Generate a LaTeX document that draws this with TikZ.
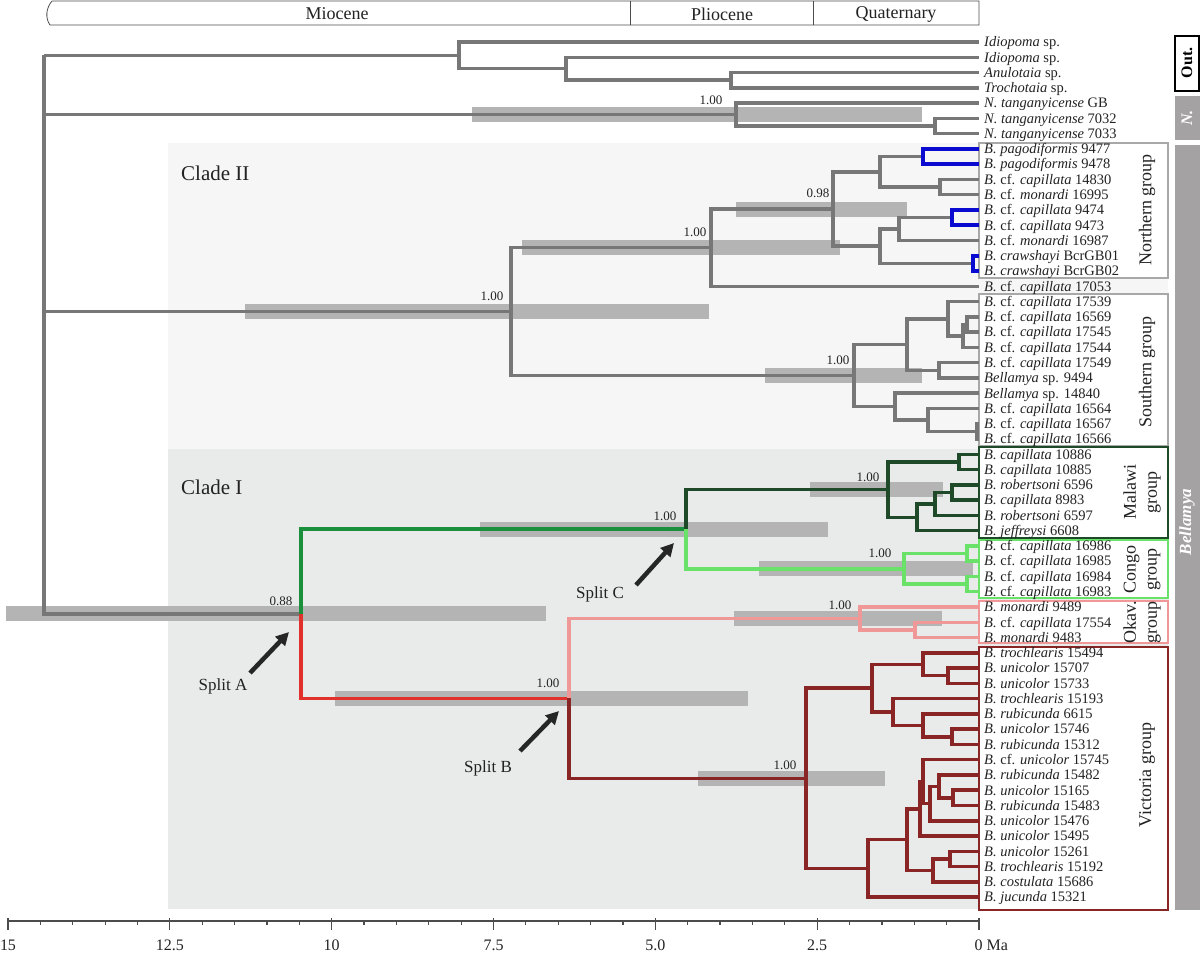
\documentclass[tikz,border=0pt]{standalone}
\usepackage{fontspec}
\setmainfont{Liberation Serif}
\usetikzlibrary{arrows.meta,calc}
\definecolor{gline}{HTML}{777777}
\definecolor{barc}{HTML}{B4B4B4}
\definecolor{bgtwo}{HTML}{F6F6F6}
\definecolor{bgone}{HTML}{E9EAEA}
\definecolor{cblue}{HTML}{0A0AD0}
\definecolor{cgreen}{HTML}{1A8F3C}
\definecolor{cdgreen}{HTML}{1F4A2A}
\definecolor{clgreen}{HTML}{6AE26A}
\definecolor{cpink}{HTML}{F09898}
\definecolor{cred}{HTML}{E2312B}
\definecolor{cdred}{HTML}{8A2525}
\definecolor{boxgrey}{HTML}{A8A8A8}
\definecolor{sidegrey}{HTML}{A4A2A2}
\definecolor{txt}{HTML}{222222}
\newcommand{\mkn}[3]{\coordinate (#1) at (#2,{42+(#3-1)*15.27});}
\newcommand{\mkleaf}[2]{\coordinate (t#1) at (979,{42+(#1-1)*15.27});\node[leaflab] (l#1) at (984,{42+(#1-1)*15.27+4.8}) {#2};}
\newcommand{\mkbar}[3]{\fill[barc] (#2,{42+(#1-1)*15.27-7.5}) rectangle (#3,{42+(#1-1)*15.27+7.5});}
\newcommand{\cfc}{\textit{B.} cf. \textit{capillata}}
\tikzset{
  br/.style={line width=3.5pt, draw=gline, line join=miter},
  brB/.style={br, draw=cblue},
  brG/.style={br, draw=cgreen},
  brDG/.style={br, draw=cdgreen},
  brLG/.style={br, draw=clgreen},
  brP/.style={br, draw=cpink},
  brR/.style={br, draw=cred},
  brDR/.style={br, draw=cdred},
  leaflab/.style={anchor=base west, inner sep=0pt, font=\fontsize{14.5}{16}\selectfont, text=txt},
  supp/.style={inner sep=0pt, font=\fontsize{13}{15}\selectfont, text=txt},
  grpbox/.style={line width=2pt, fill=white},
  grplab/.style={rotate=90, align=center, inner sep=0pt, font=\fontsize{18}{21}\selectfont, text=txt},
  cladelab/.style={anchor=west, inner sep=0pt, font=\fontsize{21}{24}\selectfont, text=txt},
  splitlab/.style={inner sep=1pt, font=\fontsize{17}{19}\selectfont, text=txt},
  splitarr/.style={line width=4.5pt, draw=black!85, -{Triangle[length=13pt,width=13pt]}},
  axlab/.style={inner sep=0pt, font=\fontsize{16}{18}\selectfont, text=txt},
  eralab/.style={inner sep=0pt, font=\fontsize{18}{20}\selectfont, text=txt},
}
\begin{document}
\begin{tikzpicture}[x=1pt,y=-1pt]
\useasboundingbox (0,0) rectangle (1200,956);
% backgrounds
\fill[bgtwo] (168,143) rectangle (1168,449);
\fill[bgone] (168,449) rectangle (1168,909);
% HPD bars
\mkbar{5.75}{472}{922}
\mkbar{18.65625}{245}{709}
\mkbar{14.46875}{522}{840}
\mkbar{11.9375}{736}{907}
\mkbar{22.84375}{765}{922}
\mkbar{38.4443359375}{6}{546}
\mkbar{32.90625}{480}{828}
\mkbar{30.3125}{810}{943}
\mkbar{35.5}{759}{973}
\mkbar{43.982421875}{335}{748}
\mkbar{38.75}{734}{942}
\mkbar{49.21484375}{698}{885}
% group boxes
\draw[grpbox, draw=boxgrey] (979,143) rectangle (1168,278);
\draw[grpbox, draw=boxgrey] (979,294) rectangle (1168,446);
\draw[grpbox, draw=cdgreen] (979,447) rectangle (1168,538);
\draw[grpbox, draw=clgreen] (979,540) rectangle (1168,598);
\draw[grpbox, draw=cpink] (979,601) rectangle (1168,643);
\draw[grpbox, draw=cdred] (979,647) rectangle (1168,910);
% leaves
\mkleaf{1}{\textit{Idiopoma} sp.}
\mkleaf{2}{\textit{Idiopoma} sp.}
\mkleaf{3}{\textit{Anulotaia} sp.}
\mkleaf{4}{\textit{Trochotaia} sp.}
\mkleaf{5}{\textit{N. tanganyicense} GB}
\mkleaf{6}{\textit{N. tanganyicense} 7032}
\mkleaf{7}{\textit{N. tanganyicense} 7033}
\mkleaf{8}{\textit{B. pagodiformis} 9477}
\mkleaf{9}{\textit{B. pagodiformis} 9478}
\mkleaf{10}{\cfc{} 14830}
\mkleaf{11}{\textit{B.} cf. \textit{monardi} 16995}
\mkleaf{12}{\cfc{} 9474}
\mkleaf{13}{\cfc{} 9473}
\mkleaf{14}{\textit{B.} cf. \textit{monardi} 16987}
\mkleaf{15}{\textit{B. crawshayi} BcrGB01}
\mkleaf{16}{\textit{B. crawshayi} BcrGB02}
\mkleaf{17}{\cfc{} 17053}
\mkleaf{18}{\cfc{} 17539}
\mkleaf{19}{\cfc{} 16569}
\mkleaf{20}{\cfc{} 17545}
\mkleaf{21}{\cfc{} 17544}
\mkleaf{22}{\cfc{} 17549}
\mkleaf{23}{\textit{Bellamya} sp. 9494}
\mkleaf{24}{\textit{Bellamya} sp. 14840}
\mkleaf{25}{\cfc{} 16564}
\mkleaf{26}{\cfc{} 16567}
\mkleaf{27}{\cfc{} 16566}
\mkleaf{28}{\textit{B. capillata} 10886}
\mkleaf{29}{\textit{B. capillata} 10885}
\mkleaf{30}{\textit{B. robertsoni} 6596}
\mkleaf{31}{\textit{B. capillata} 8983}
\mkleaf{32}{\textit{B. robertsoni} 6597}
\mkleaf{33}{\textit{B. jeffreysi} 6608}
\mkleaf{34}{\cfc{} 16986}
\mkleaf{35}{\cfc{} 16985}
\mkleaf{36}{\cfc{} 16984}
\mkleaf{37}{\cfc{} 16983}
\mkleaf{38}{\textit{B. monardi} 9489}
\mkleaf{39}{\cfc{} 17554}
\mkleaf{40}{\textit{B. monardi} 9483}
\mkleaf{41}{\textit{B. trochlearis} 15494}
\mkleaf{42}{\textit{B. unicolor} 15707}
\mkleaf{43}{\textit{B. unicolor} 15733}
\mkleaf{44}{\textit{B. trochlearis} 15193}
\mkleaf{45}{\textit{B. rubicunda} 6615}
\mkleaf{46}{\textit{B. unicolor} 15746}
\mkleaf{47}{\textit{B. rubicunda} 15312}
\mkleaf{48}{\textit{B.} cf. \textit{unicolor} 15745}
\mkleaf{49}{\textit{B. rubicunda} 15482}
\mkleaf{50}{\textit{B. unicolor} 15165}
\mkleaf{51}{\textit{B. rubicunda} 15483}
\mkleaf{52}{\textit{B. unicolor} 15476}
\mkleaf{53}{\textit{B. unicolor} 15495}
\mkleaf{54}{\textit{B. unicolor} 15261}
\mkleaf{55}{\textit{B. trochlearis} 15192}
\mkleaf{56}{\textit{B. costulata} 15686}
\mkleaf{57}{\textit{B. jucunda} 15321}
% internal nodes
\mkn{root}{44}{1.875}
\mkn{o459}{459}{1.875}
\mkn{o566}{566}{2.75}
\mkn{o731}{731}{3.5}
\mkn{n736}{736}{5.75}
\mkn{n935}{935}{6.5}
\mkn{c511}{511}{18.65625}
\mkn{c711}{711}{14.46875}
\mkn{c833}{833}{11.9375}
\mkn{c880a}{880}{9.5}
\mkn{c923}{923}{8.5}
\mkn{c940}{940}{10.5}
\mkn{c880b}{880}{14.375}
\mkn{c899}{899}{13.25}
\mkn{c952}{952}{12.5}
\mkn{c973}{973}{15.5}
\mkn{s854}{854}{22.84375}
\mkn{s907}{907}{20.8125}
\mkn{s948}{948}{19.125}
\mkn{s963}{963}{20.25}
\mkn{s967}{967}{19.5}
\mkn{s939}{939}{22.5}
\mkn{s895}{895}{24.875}
\mkn{s928}{928}{25.75}
\mkn{s977}{977}{26.5}
\mkn{a301}{301}{38.4443359375}
\mkn{m686}{686}{32.90625}
\mkn{m888}{888}{30.3125}
\mkn{m959}{959}{28.5}
\mkn{m917}{917}{32.125}
\mkn{m935}{935}{31.25}
\mkn{m952}{952}{30.5}
\mkn{g904}{904}{35.5}
\mkn{g967a}{967}{34.5}
\mkn{g967b}{967}{36.5}
\mkn{b569}{569}{43.982421875}
\mkn{k860}{860}{38.75}
\mkn{k915}{915}{39.5}
\mkn{v806}{806}{49.21484375}
\mkn{v872}{872}{43.3125}
\mkn{v923a}{923}{41.75}
\mkn{v948}{948}{42.5}
\mkn{v893}{893}{44.875}
\mkn{v923b}{923}{45.75}
\mkn{v952}{952}{46.5}
\mkn{v868}{868}{55.1171875}
\mkn{v907}{907}{53.234375}
\mkn{v920}{920}{51.21875}
\mkn{v923c}{923}{49.4375}
\mkn{v930}{930}{50.875}
\mkn{v939}{939}{49.75}
\mkn{v953}{953}{50.5}
\mkn{v933}{933}{55.25}
\mkn{v950}{950}{54.5}
% branches
\foreach \p/\c in {root/o459, root/n736, root/c511, root/a301,
  o459/t1, o459/o566, o566/t2, o566/o731, o731/t3, o731/t4,
  n736/t5, n736/n935, n935/t6, n935/t7,
  c511/c711, c511/s854, c711/c833, c711/t17, c833/c880a, c833/c880b,
  c880a/c923, c880a/c940, c940/t10, c940/t11,
  c880b/c899, c880b/c973, c899/c952, c899/t14,
  s854/s907, s854/s895, s907/s948, s907/s939, s948/t18, s948/s963,
  s963/s967, s963/t21, s967/t19, s967/t20, s939/t22, s939/t23,
  s895/t24, s895/s928, s928/t25, s928/s977, s977/t26, s977/t27}
  \draw[br] (\p) |- (\c);
\foreach \p/\c in {c923/t8, c923/t9, c952/t12, c952/t13, c973/t15, c973/t16}
  \draw[brB] (\p) |- (\c);
\draw[brG] (a301) |- (m686);
\draw[brR] (a301) |- (b569);
\foreach \p/\c in {m686/m888, m888/m959, m888/m917, m959/t28, m959/t29,
  m917/m935, m917/t33, m935/m952, m935/t32, m952/t30, m952/t31}
  \draw[brDG] (\p) |- (\c);
\foreach \p/\c in {m686/g904, g904/g967a, g904/g967b, g967a/t34, g967a/t35, g967b/t36, g967b/t37}
  \draw[brLG] (\p) |- (\c);
\foreach \p/\c in {b569/k860, k860/t38, k860/k915, k915/t39, k915/t40}
  \draw[brP] (\p) |- (\c);
\foreach \p/\c in {b569/v806, v806/v872, v806/v868,
  v872/v923a, v872/v893, v923a/t41, v923a/v948, v948/t42, v948/t43,
  v893/t44, v893/v923b, v923b/t45, v923b/v952, v952/t46, v952/t47,
  v868/v907, v868/t57, v907/v920, v907/v933, v920/v923c, v920/t53,
  v923c/t48, v923c/v930, v930/v939, v930/t52, v939/t49, v939/v953,
  v953/t50, v953/t51, v933/v950, v933/t56, v950/t54, v950/t55}
  \draw[brDR] (\p) |- (\c);
% support values
\node[supp] (sp1) at ($(n736)+(-25,-14)$) {1.00};
\node[supp] (sp2) at ($(c511)+(-19,-15)$) {1.00};
\node[supp] (sp3) at ($(c711)+(-16,-15)$) {1.00};
\node[supp] (sp4) at ($(c833)+(-15,-16)$) {0.98};
\node[supp] (sp5) at ($(s854)+(-16,-15)$) {1.00};
\node[supp] (sp6) at ($(a301)+(-20,-13)$) {0.88};
\node[supp] (sp7) at ($(m686)+(-21,-13)$) {1.00};
\node[supp] (sp8) at ($(m888)+(-20,-12)$) {1.00};
\node[supp] (sp9) at ($(g904)+(-24,-16)$) {1.00};
\node[supp] (sp10) at ($(b569)+(-21,-15)$) {1.00};
\node[supp] (sp11) at ($(k860)+(-20,-13)$) {1.00};
\node[supp] (sp12) at ($(v806)+(-21,-13)$) {1.00};
% clade labels
\node[cladelab] (cII) at (181,173) {Clade II};
\node[cladelab] (cI) at (181,487) {Clade I};
% group labels
\node[grplab] (gN) at (1147,210) {Northern group};
\node[grplab] (gS) at (1147,372) {Southern group};
\node[grplab] (gM) at (1142,492) {Malawi\\group};
\node[grplab] (gC) at (1142,569) {Congo\\group};
\node[grplab] (gO) at (1142,622) {Okav.\\group};
\node[grplab] (gV) at (1147,775) {Victoria group};
% split arrows
\node[splitlab] (sA) at (223,686) {Split A};
\node[splitlab] (sB) at (488,768) {Split B};
\node[splitlab] (sC) at (600,594) {Split C};
\coordinate (tipA) at (289,632);
\coordinate (tipB) at (559,711);
\coordinate (tipC) at (674,543);
\draw[splitarr] (250,673) -- (tipA);
\draw[splitarr] (520,751) -- (tipB);
\draw[splitarr] (636,585) -- (tipC);
% right side bars
\draw[line width=1.5pt, fill=white] (1175,36) rectangle (1199,91);
\node[rotate=90, inner sep=0pt, font=\fontsize{16}{18}\selectfont\bfseries] (out) at (1187,63) {Out.};
\fill[sidegrey] (1175,96) rectangle (1200,140);
\node[rotate=90, inner sep=0pt, text=white, font=\fontsize{16}{18}\selectfont\bfseries\itshape] (nn) at (1187,118) {N.};
\fill[sidegrey] (1175,145) rectangle (1200,910);
\node[rotate=90, inner sep=0pt, text=white, font=\fontsize{17}{19}\selectfont\bfseries\itshape] (bel) at (1187,522) {Bellamya};
% top time scale
\draw[line width=0.8pt, draw=black!70] (52,1) -- (979,1) -- (979,25) -- (50,25) .. controls (45,18) and (46,8) .. (52,1);
\draw[line width=0.8pt, draw=black!70] (630,1) -- (630,25);
\draw[line width=0.8pt, draw=black!70] (813,1) -- (813,25);
\node[eralab] (mio) at (337,14) {Miocene};
\node[eralab] (pli) at (722,14) {Pliocene};
\node[eralab] (qua) at (896,14) {Quaternary};
% axis
\draw[line width=1.2pt, draw=black!70] (8,921) -- (979,921);
\foreach \k in {0,...,30} \draw[line width=1.2pt, draw=black!70] ({979-\k*32.3667},921) -- ++(0,4);
\foreach \k in {0,5,...,30} \draw[line width=1.2pt, draw=black!70] ({979-\k*32.3667},918) -- ++(0,12);
\foreach \v/\t/\n in {15/15/a, 12.5/12.5/b, 10/10/c, 7.5/7.5/d, 5/5.0/e, 2.5/2.5/f}
  \node[axlab] (ax\n) at ({979-\v*64.7333},945) {\t};
\node[axlab, anchor=west] (ax0) at (974.5,945) {0 Ma};
\end{tikzpicture}
\end{document}
